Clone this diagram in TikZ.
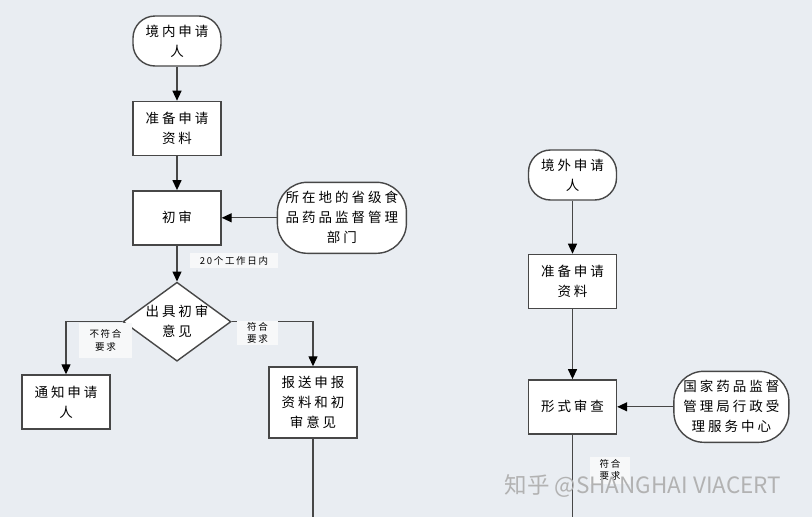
\documentclass[tikz,border=0pt]{standalone}
\usepackage{fontspec}
\setmainfont{Noto Sans CJK SC}
\newfontfamily\cjkfont[LetterSpace=22]{Noto Sans CJK SC}
\newfontfamily\tagfont[LetterSpace=18]{Noto Sans CJK SC}
\usetikzlibrary{shapes.geometric,arrows.meta,positioning}
\definecolor{bgcol}{HTML}{E9EDF2}
\definecolor{linecol}{HTML}{474747}
\definecolor{tagcol}{HTML}{F7F8F9}

\begin{document}
\begin{tikzpicture}[
    x=1pt, y=-1pt,
    font=\cjkfont\fontsize{13.5}{20}\selectfont,
    node distance=0mm,
    frame/.style={draw=linecol, line width=1.4pt, fill=white, align=center, inner sep=1pt},
    term/.style={frame, rounded corners=22pt, minimum width=88pt, minimum height=50pt},
    box/.style={frame, minimum width=88pt, minimum height=54pt},
    agency/.style={frame, rounded corners=30pt, minimum height=71pt},
    decide/.style={frame, diamond, aspect=1.37, inner sep=0pt, minimum width=108pt, minimum height=79pt},
    tag/.style={fill=tagcol, align=center, inner sep=1pt, font=\tagfont\fontsize{9.5}{12.5}\selectfont},
    arr/.style={-{Triangle[length=10pt,width=9pt,color=black]}, draw=linecol, line width=1.3pt},
    flow/.style={draw=linecol, line width=1.3pt}
]
\fill[bgcol] (0,0) rectangle (812,517);
\useasboundingbox (0,0) rectangle (812,517);

% domestic applicant
\node[term] (start1) at (177,41) {境内申请\\人};
\node[box, below=34pt of start1] (prep1) {准备申请\\资料};
\node[box, below=34pt of prep1] (first) {初审};
\node[agency, minimum width=129pt, right=55pt of first] (prov) {所在地的省级食\\品药品监督管理\\部门};
\node[decide, below=36pt of first] (opinion) {出具初审\\意见};
\node[box] (notify) at (66,402) {通知申请\\人};
\node[box, minimum height=71pt] (report) at (313,402.5) {报送申报\\资料和初\\审意见};
\coordinate (endL) at (report.south |- 0,517);

\draw[arr] (start1) -- (prep1);
\draw[arr] (prep1) -- (first);
\draw[arr] (prov) -- (first);
\draw[arr] (first) -- (opinion);
\draw[arr] (opinion.west) -| (notify.north);
\draw[arr] (opinion.east) -| (report.north);
\draw[flow] (report.south) -- (endL);

\node[tag, minimum width=88pt, minimum height=15pt] (days) at (234,260.5) {20个工作日内};
\node[tag, minimum width=53pt, minimum height=35pt] (fail) at (105.5,340.5) {不符合\\要求};
\node[tag, minimum width=41pt, minimum height=21pt] (pass1) at (257.5,333) {符合\\要求};

% foreign applicant
\node[term] (start2) at (572.5,175) {境外申请\\人};
\node[box, below=53pt of start2] (prep2) {准备申请\\资料};
\node[box, below=70pt of prep2] (formal) {形式审查};
\node[agency, minimum width=115pt, right=56pt of formal] (nmpa) {国家药品监督\\管理局行政受\\理服务中心};
\coordinate (endR) at (formal.south |- 0,517);

\draw[arr] (start2) -- (prep2);
\draw[arr] (prep2) -- (formal);
\draw[arr] (nmpa) -- (formal);
\draw[flow] (formal.south) -- (endR);

\node[tag, minimum width=40pt, minimum height=27pt] (pass2) at (610,470) {符合\\要求};

% watermark
\node[font=\fontsize{22.5}{26}\selectfont, text=black!30] (mark) at (643,486) {知乎 @SHANGHAI VIACERT};
\end{tikzpicture}
\end{document}
